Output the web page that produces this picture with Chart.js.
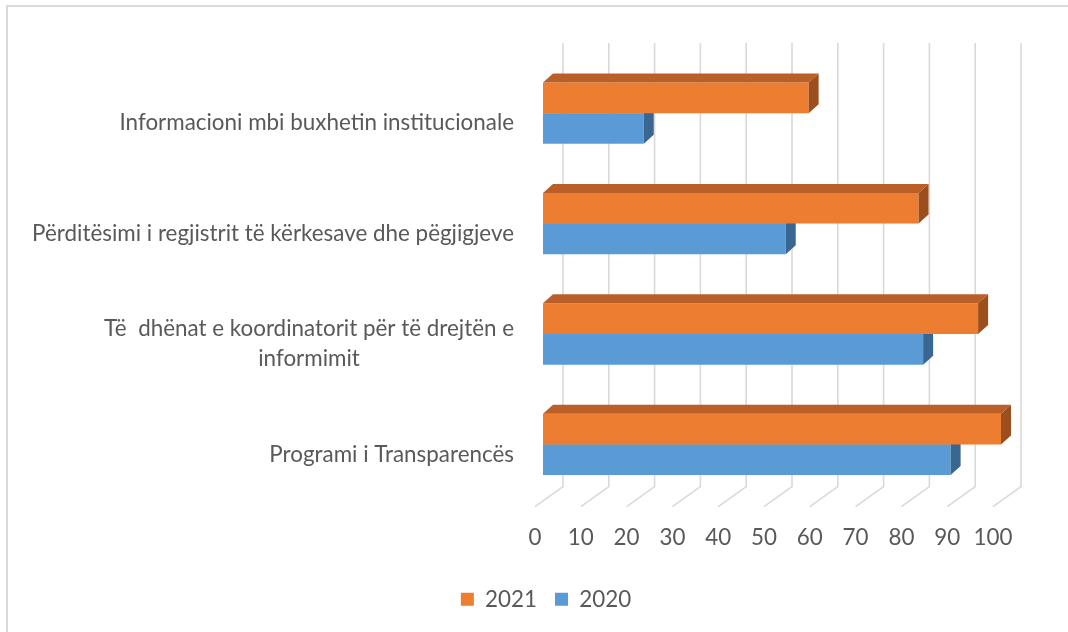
<!DOCTYPE html>
<html>
<head>
<meta charset="utf-8">
<script src="https://cdn.jsdelivr.net/npm/chart.js@4.4.0/dist/chart.umd.min.js"></script>
<style>
  html, body { margin: 0; padding: 0; background: #fff; }
  #wrap { width: 1068px; height: 632px; }
</style>
</head>
<body>
<div id="wrap"><canvas id="barChart"></canvas></div>
<script>
var categories = [
    "Informacioni mbi buxhetin institucionale",
    "Përditësimi i regjistrit të kërkesave dhe pëgjigjeve",
    ["Të  dhënat e koordinatorit për të drejtën e", "informimit"],
    "Programi i Transparencës"
];
var values2021 = [58, 82, 95, 100];
var values2020 = [22, 53, 83, 89];
var xTickValues = [0, 10, 20, 30, 40, 50, 60, 70, 80, 90, 100];

var FONT = 'Lato';
var FONT_SIZE = 22.4;
var TEXT = '#595959';

// bar front face is pushed back a little from the floor front
var BAR_DX = 8, BAR_DY = -10;
// depth of the bar boxes
var DEPTH_X = 10, DEPTH_Y = 9;
// depth of the floor / back wall grid
var FLOOR_X = 28, FLOOR_Y = 20;

Chart.defaults.font.family = FONT;
Chart.defaults.font.size = FONT_SIZE;
Chart.defaults.color = TEXT;

var frame = {
    id: 'frame',
    beforeDraw: function (chart) {
        var ctx = chart.ctx;
        ctx.save();
        ctx.fillStyle = '#d9d9d9';
        ctx.fillRect(6, 5, chart.width, 2);
        ctx.fillRect(6, 5, 2, chart.height);
        ctx.restore();
    }
};

var backGrid = {
    id: 'backGrid',
    beforeDatasetsDraw: function (chart) {
        var ctx = chart.ctx, xs = chart.scales.x, area = chart.chartArea;
        var floorY = area.bottom - 3;
        var topY = area.top - 25;
        ctx.save();
        ctx.strokeStyle = '#d9d9d9';
        ctx.lineWidth = 1.6;
        xs.ticks.forEach(function (t) {
            var x = xs.getPixelForValue(t.value);
            ctx.beginPath();
            ctx.moveTo(x, floorY);
            ctx.lineTo(x + FLOOR_X, floorY - FLOOR_Y);
            ctx.lineTo(x + FLOOR_X, topY);
            ctx.stroke();
        });
        ctx.restore();
    }
};

var catLabels = {
    id: 'catLabels',
    afterDraw: function (chart) {
        var ctx = chart.ctx, ys = chart.scales.y;
        var right = chart.chartArea.left - 21;
        var lineH = 30;
        ctx.save();
        ctx.font = FONT_SIZE + 'px ' + FONT;
        ctx.fillStyle = TEXT;
        ctx.textBaseline = 'middle';
        ctx.textAlign = 'center';
        categories.forEach(function (lab, i) {
            var lines = Array.isArray(lab) ? lab : [lab];
            var w = Math.max.apply(null, lines.map(function (l) { return ctx.measureText(l).width; }));
            var cx = right - w / 2;
            var y0 = ys.getPixelForTick(i) - (lines.length - 1) * lineH / 2;
            lines.forEach(function (l, k) {
                ctx.fillText(l, cx, y0 + k * lineH);
            });
        });
        ctx.restore();
    }
};

var bar3d = {
    id: 'bar3d',
    beforeDatasetDraw: function (chart) {
        chart.ctx.save();
        chart.ctx.translate(BAR_DX, BAR_DY);
    },
    afterDatasetDraw: function (chart, args) {
        var ctx = chart.ctx;
        var ds = chart.data.datasets[args.index];
        args.meta.data.forEach(function (bar) {
            var p = bar.getProps(['x', 'y', 'base', 'height'], true);
            var top = p.y - p.height / 2, bottom = p.y + p.height / 2;
            ctx.fillStyle = ds.topColor;
            ctx.beginPath();
            ctx.moveTo(p.base, top);
            ctx.lineTo(p.base + DEPTH_X, top - DEPTH_Y);
            ctx.lineTo(p.x + DEPTH_X, top - DEPTH_Y);
            ctx.lineTo(p.x, top);
            ctx.closePath();
            ctx.fill();
            ctx.fillStyle = ds.sideColor;
            ctx.beginPath();
            ctx.moveTo(p.x, top);
            ctx.lineTo(p.x + DEPTH_X, top - DEPTH_Y);
            ctx.lineTo(p.x + DEPTH_X, bottom - DEPTH_Y);
            ctx.lineTo(p.x, bottom);
            ctx.closePath();
            ctx.fill();
        });
        ctx.restore();
    }
};

var ctx = document.getElementById('barChart').getContext('2d');

var chart = new Chart(ctx, {
    type: 'bar',
    data: {
        labels: categories,
        datasets: [{
            label: '2021',
            data: values2021,
            backgroundColor: '#ED7D31',
            topColor: '#BA5F27',
            sideColor: '#9C4E1C',
            borderWidth: 0,
            clip: false
        }, {
            label: '2020',
            data: values2020,
            backgroundColor: '#5B9BD5',
            topColor: '#4A80B3',
            sideColor: '#3A6792',
            borderWidth: 0,
            clip: false
        }]
    },
    options: {
        indexAxis: 'y',
        responsive: true,
        maintainAspectRatio: false,
        animation: false,
        events: [],
        layout: {
            // left padding only recentres the legend; y axis width makes up for it
            padding: { top: 68, right: 75, bottom: 11.5, left: 99 }
        },
        datasets: {
            bar: { categoryPercentage: 0.555, barPercentage: 1.0 }
        },
        scales: {
            x: {
                min: 0,
                max: 100,
                grid: { display: false, drawTicks: false },
                border: { display: false },
                ticks: { padding: 15, color: TEXT, maxRotation: 0, minRotation: 0, autoSkip: false },
                afterBuildTicks: function (scale) {
                    scale.ticks = xTickValues.map(function (v) { return { value: v }; });
                },
                afterFit: function (scale) { scale.height = 60.5; }
            },
            y: {
                grid: { display: false, drawTicks: false },
                border: { display: false },
                ticks: { display: false },
                afterFit: function (scale) { scale.width = 535 - 99; }
            }
        },
        plugins: {
            legend: {
                position: 'bottom',
                labels: {
                    boxWidth: 13,
                    boxHeight: 13,
                    padding: 18,
                    color: TEXT,
                    font: { size: FONT_SIZE }
                }
            },
            tooltip: { enabled: false }
        }
    },
    plugins: [frame, backGrid, bar3d, catLabels]
});
</script>
</body>
</html>
